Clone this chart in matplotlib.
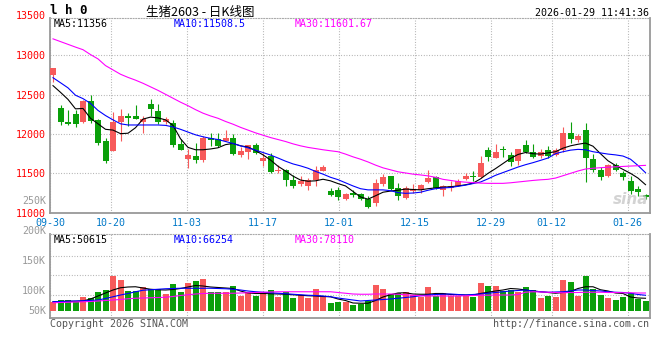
import numpy as np
import pandas as pd
import matplotlib
matplotlib.use('Agg')
import matplotlib.pyplot as plt

plt.rcParams['font.family'] = ['DejaVu Sans Mono', 'Noto Sans CJK SC']

# trading days 09-30 .. 01-29 (national day and new year holidays removed)
holidays = pd.to_datetime(['2025-10-01', '2025-10-02', '2025-10-03', '2025-10-06',
                           '2025-10-07', '2025-10-08', '2026-01-01', '2026-01-02'])
days = pd.bdate_range('2025-09-30', '2026-01-29')
days = days[~days.isin(holidays)]
dates = list(days.strftime('%m-%d'))

tick_dates = ['09-30', '10-20', '11-03', '11-17', '12-01', '12-15', '12-29', '01-12', '01-26']

opens = [12750, 12334, 12158, 12257, 12150, 12416, 12184, 11909, 11785, 12158,
         12235, 12235, 12150, 12386, 12287, 12150, 12141, 11867, 11678, 11720,
         11669, 11952, 11935, 11909, 11948, 11729, 11772, 11858, 11656, 11720,
         11536, 11549, 11420, 11369, 11335, 11412, 11532, 11279, 11292, 11180,
         11249, 11240, 11172, 11120, 11369, 11463, 11313, 11184, 11275, 11283,
         11386, 11455, 11283, 11313, 11343, 11429, 11472, 11455, 11794, 11691,
         11815, 11729, 11656, 11858, 11776, 11721, 11794, 11729, 11794, 12012,
         11927, 12055, 11678, 11540, 11463, 11600, 11506, 11408, 11300, 11219]
highs = [12840, 12373, 12308, 12308, 12428, 12493, 12190, 11952, 12278, 12321,
         12270, 12364, 12227, 12450, 12386, 12214, 12184, 11935, 11806, 11892,
         11970, 12012, 12008, 12055, 11995, 11836, 11862, 11884, 11763, 11763,
         11600, 11552, 11485, 11463, 11442, 11592, 11600, 11313, 11322, 11245,
         11283, 11249, 11206, 11429, 11493, 11472, 11377, 11343, 11369, 11369,
         11549, 11472, 11356, 11399, 11429, 11506, 11536, 11721, 11837, 11871,
         11849, 11772, 11815, 11922, 11867, 11806, 11849, 11828, 12094, 12158,
         12000, 12141, 11742, 11583, 11613, 11626, 11536, 11472, 11335, 11240]
lows = [12665, 12120, 12110, 12085, 12141, 12141, 11858, 11635, 11780, 11914,
        12107, 12190, 12012, 12235, 12128, 12128, 11841, 11795, 11566, 11626,
        11644, 11850, 11841, 11905, 11729, 11712, 11686, 11750, 11592, 11506,
        11506, 11335, 11313, 11335, 11283, 11335, 11528, 11215, 11155, 11155,
        11197, 11163, 11064, 11086, 11335, 11283, 11163, 11172, 11249, 11249,
        11377, 11300, 11215, 11270, 11335, 11420, 11399, 11442, 11656, 11690,
        11712, 11592, 11600, 11764, 11691, 11700, 11700, 11721, 11772, 11892,
        11900, 11386, 11515, 11412, 11460, 11528, 11420, 11240, 11215, 11172]
closes = [12836, 12158, 12128, 12128, 12416, 12171, 11884, 11652, 12158, 12235,
          12210, 12193, 12193, 12321, 12150, 12193, 11858, 11798, 11729, 11669,
          11948, 11927, 11850, 11952, 11742, 11789, 11858, 11755, 11699, 11515,
          11549, 11420, 11335, 11399, 11412, 11540, 11583, 11227, 11197, 11240,
          11223, 11172, 11069, 11377, 11455, 11300, 11206, 11313, 11300, 11347,
          11442, 11313, 11335, 11335, 11399, 11472, 11455, 11635, 11708, 11776,
          11794, 11644, 11806, 11772, 11708, 11772, 11721, 11794, 12012, 11935,
          11978, 11691, 11549, 11455, 11600, 11549, 11450, 11270, 11257, 11197]

ma5 = [12615, 12530, 12440, 12320, 12325, 12200, 12130, 12060, 12050, 12005,
       12010, 12080, 12190, 12215, 12205, 12180, 12110, 11940, 11830, 11800,
       11800, 11810, 11825, 11865, 11880, 11850, 11835, 11790, 11735, 11670,
       11590, 11530, 11465, 11415, 11400, 11405, 11425, 11405, 11370, 11340,
       11270, 11200, 11172, 11215, 11260, 11275, 11285, 11300, 11295, 11290,
       11305, 11315, 11325, 11330, 11340, 11355, 11375, 11430, 11500, 11560,
       11625, 11690, 11740, 11765, 11750, 11745, 11760, 11775, 11820, 11850,
       11870, 11885, 11845, 11750, 11660, 11600, 11550, 11500, 11440, 11356]
ma10 = [12716, 12652, 12587, 12493, 12450, 12390, 12300, 12235, 12180, 12130,
        12115, 12115, 12115, 12115, 12115, 12110, 12090, 12060, 12025, 11990,
        11965, 11945, 11930, 11905, 11880, 11850, 11825, 11795, 11765, 11733,
        11695, 11655, 11620, 11595, 11565, 11525, 11490, 11450, 11420, 11380,
        11340, 11305, 11290, 11290, 11290, 11280, 11255, 11246, 11250, 11260,
        11285, 11305, 11315, 11320, 11335, 11350, 11370, 11390, 11430, 11475,
        11510, 11545, 11580, 11610, 11636, 11665, 11695, 11750, 11775, 11795,
        11805, 11800, 11775, 11760, 11745, 11735, 11720, 11680, 11600, 11508.5]
ma30 = [13210, 13175, 13140, 13105, 13072, 13010, 12955, 12870, 12815, 12760,
        12720, 12685, 12645, 12600, 12555, 12505, 12455, 12405, 12360, 12310,
        12265, 12230, 12200, 12160, 12125, 12085, 12050, 12015, 11985, 11955,
        11930, 11905, 11875, 11850, 11830, 11815, 11800, 11787, 11775, 11745,
        11710, 11680, 11645, 11605, 11570, 11545, 11520, 11505, 11490, 11480,
        11468, 11450, 11424, 11410, 11396, 11388, 11382, 11376, 11373, 11373,
        11373, 11380, 11390, 11400, 11410, 11418, 11424, 11440, 11470, 11500,
        11530, 11555, 11565, 11572, 11578, 11583, 11588, 11593, 11597, 11601.67]

# volume in thousands of lots
volume = [36.0, 44.0, 44.0, 37.3, 56.0, 50.7, 76.0, 84.0, 141.3, 124.0,
          80.0, 80.0, 97.3, 86.7, 86.7, 68.0, 108.0, 77.3, 112.0, 120.0,
          128.0, 76.0, 76.0, 76.0, 100.0, 60.0, 76.0, 60.0, 77.3, 84.0,
          56.0, 77.3, 52.0, 64.0, 53.3, 88.0, 60.0, 33.3, 36.0, 36.0,
          24.0, 26.7, 40.0, 104.0, 88.0, 66.7, 70.7, 74.7, 64.0, 54.7,
          96.0, 60.0, 70.7, 60.0, 60.0, 60.0, 57.3, 112.0, 100.0, 100.0,
          81.3, 84.0, 77.3, 96.0, 84.0, 52.0, 61.3, 56.0, 124.0, 116.0,
          61.3, 141.3, 86.7, 64.0, 53.3, 44.0, 56.0, 70.7, 49.3, 40.0]
vol_ma5 = [37, 38, 39, 39, 40, 48, 60, 72, 84, 93, 96, 97, 92, 87, 85, 84, 86, 90, 96, 102,
           100, 96, 94, 92, 90, 80, 72, 70, 70, 69, 68, 67, 65, 63, 61, 60, 58, 57, 48, 42,
           32, 31, 31, 42, 56, 65, 72, 73, 68, 67, 67, 70, 70, 66, 65, 64, 64, 70, 75, 80,
           84, 90, 88, 84, 80, 77, 74, 71, 74, 78, 90, 97, 97, 85, 80, 72, 70, 56, 52, 51]
vol_ma10 = [37, 38, 39, 40, 41, 42, 44, 50, 57, 64, 70, 77, 83, 85, 87, 89, 90, 91, 91, 91,
            91, 91, 90, 89, 87, 84, 80, 77, 75, 73, 71, 69, 67, 65, 63, 62, 60, 57, 52, 48,
            44, 40, 42, 44, 46, 48, 51, 54, 57, 61, 64, 66, 67, 68, 66, 64, 66, 68, 71, 74,
            77, 80, 82, 84, 80, 77, 75, 76, 77, 80, 84, 84, 82, 80, 77, 75, 74, 71, 66, 63]
vol_ma30 = [33, 34, 35, 36, 37, 38, 40, 42, 44, 46, 49, 51, 52, 53, 54, 55, 58, 62, 65, 68,
            70, 71, 71, 71, 71, 72, 73, 74, 75, 76, 77, 77, 77, 77, 77, 77, 77, 77, 74, 71,
            68, 67, 67, 68, 68, 68, 67, 65, 63, 61, 60, 60, 60, 60, 60, 61, 62, 63, 63, 64,
            64, 64, 66, 75, 77, 76, 75, 74, 73, 74, 74, 75, 75, 75, 74, 74, 73, 73, 72, 72]

RED = '#f75a5a'
GREEN = '#0a9f0a'
GRID = '#aaaaaa'
W, H = 660, 360


def fx(px):
    return px / W


def fy(py):
    return 1 - py / H


o = np.array(opens, float)
c = np.array(closes, float)
x = np.arange(len(dates))
colors = np.where(c >= o, RED, GREEN)

fig = plt.figure(figsize=(6.6, 3.6), dpi=100)
ax = fig.add_axes([fx(50), fy(213), fx(600), 195 / H])
axv = fig.add_axes([fx(50), fy(318), fx(600), 84 / H])

# sina's grid runs at 7.6 px per day while candles step 7.5 px
tick_idx = np.array([dates.index(d) for d in tick_dates])
grid_x = (tick_idx * 7.6 - 3) / 7.5

# candles
ax.vlines(x, lows, highs, colors=colors, linewidth=0.8, zorder=3)
ax.bar(x, np.maximum(np.abs(c - o), 10), bottom=np.minimum(o, c), width=0.8,
       color=colors, linewidth=0, zorder=4)
ax.plot(x, ma5, color='black', lw=0.8, zorder=5)
ax.plot(x, ma10, color='#0000ff', lw=0.8, zorder=5)
ax.plot(x, ma30, color='#ff00ff', lw=0.8, zorder=5)

ax.set_xlim(-0.4, 79.6)
ax.set_ylim(10996, 13475)
ax.set_yticks([11000, 11500, 12000, 12500, 13000])
ax.set_xticks(grid_x)
ax.set_xticklabels(tick_dates)
ax.tick_params(axis='y', length=0, pad=3, labelcolor='#ff0000', labelsize=7.2)
ax.tick_params(axis='x', length=0, pad=3.5, labelcolor='#0078c8', labelsize=7.2)

# volume
axv.bar(x, volume, width=0.8, color=colors, linewidth=0, zorder=3)
axv.plot(x, vol_ma5, color='black', lw=0.8, zorder=4)
axv.plot(x, vol_ma10, color='#0000ff', lw=0.8, zorder=4)
axv.plot(x, vol_ma30, color='#ff00ff', lw=0.8, zorder=4)
axv.set_xlim(-0.4, 79.6)
axv.set_ylim(-28, 308)
axv.set_yticks([63, 144, 221])
axv.set_yticklabels([])
axv.set_xticks(grid_x)
axv.set_xticklabels([])
axv.tick_params(length=0)

for a in (ax, axv):
    a.grid(True, color=GRID, linestyle=(0, (0.8, 1.6)), linewidth=0.8, zorder=0)
    a.set_axisbelow(True)
    for side in ('left', 'right', 'bottom'):
        a.spines[side].set_color('#999999')
        a.spines[side].set_linewidth(1.3)
    a.spines['top'].set_color(GRID)
    a.spines['top'].set_linestyle((0, (0.8, 1.6)))
    a.spines['top'].set_linewidth(0.8)

# header
fig.text(fx(50), fy(11), 'l h 0', fontsize=9, fontweight='bold', va='center')
fig.text(fx(200), fy(12), '生猪2603 - 日K线图', fontsize=9, ha='center', va='center',
         family=['Noto Sans CJK SC', 'DejaVu Sans'])
fig.text(fx(649), fy(13), '2026-01-29 11:41:36', fontsize=7.2, ha='right', va='center')
fig.text(fx(46), fy(16), '13500', fontsize=7.2, ha='right', va='center', color='#ff0000')

fig.text(fx(54), fy(24), 'MA5:11356', fontsize=7.2, va='center', color='black')
fig.text(fx(174), fy(24), 'MA10:11508.5', fontsize=7.2, va='center', color='#0000ff')
fig.text(fx(295), fy(24), 'MA30:11601.67', fontsize=7.2, va='center', color='#ff00ff')

fig.text(fx(54), fy(240), 'MA5:50615', fontsize=7.2, va='center', color='black')
fig.text(fx(174), fy(240), 'MA10:66254', fontsize=7.2, va='center', color='#0000ff')
fig.text(fx(295), fy(240), 'MA30:78110', fontsize=7.2, va='center', color='#ff00ff')

for label, py in [('250K', 200.7), ('200K', 231), ('150K', 260.7), ('100K', 290.7), ('50K', 310.7)]:
    fig.text(fx(46), fy(py), label, fontsize=7.2, ha='right', va='center', color='#999999')

fig.text(fx(50), fy(324), 'Copyright 2026 SINA.COM', fontsize=7.2, va='center', color='#555555')
fig.text(fx(649), fy(324), 'http://finance.sina.com.cn', fontsize=7.2, ha='right',
         va='center', color='#555555')

# watermark
fig.text(fx(648), fy(199), 'sina', fontsize=11, ha='right', va='center', color='#c8c8c8',
         style='italic', fontweight='bold', family='DejaVu Sans', alpha=0.8)

fig.savefig('out.png', dpi=100)
